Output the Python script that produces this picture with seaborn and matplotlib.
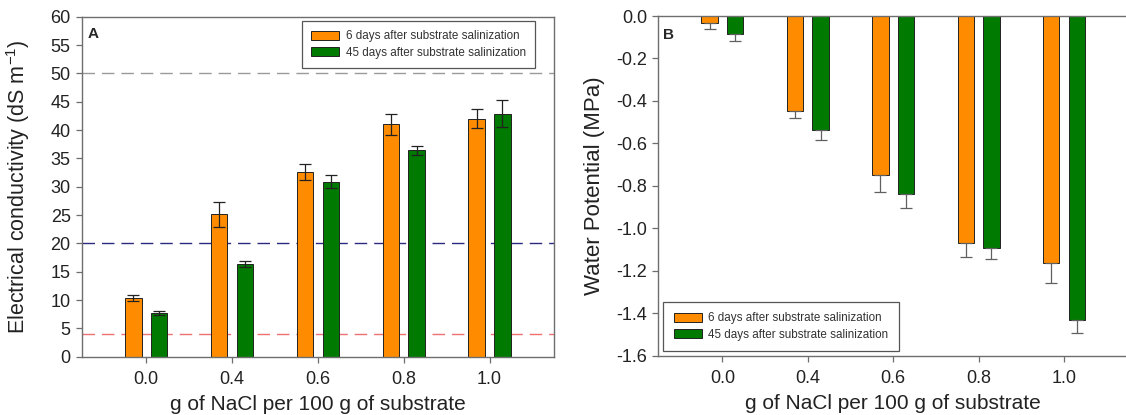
import numpy as np
import pandas as pd
import matplotlib
matplotlib.use("Agg")
import matplotlib.pyplot as plt
import seaborn as sns

# ---------------- data ----------------
categories = ["0.0", "0.4", "0.6", "0.8", "1.0"]
series_names = ["6 days after substrate salinization", "45 days after substrate salinization"]

ec_6d = [10.3, 25.1, 32.6, 41.0, 42.0]
ec_6d_err = [0.5, 2.2, 1.45, 1.9, 1.7]
ec_45d = [7.7, 16.3, 30.9, 36.4, 42.9]
ec_45d_err = [0.4, 0.5, 1.2, 0.8, 2.4]

wp_6d = [-0.034, -0.449, -0.750, -1.068, -1.163]
wp_6d_err = [0.029, 0.033, 0.077, 0.069, 0.096]
wp_45d = [-0.086, -0.535, -0.836, -1.094, -1.431]
wp_45d_err = [0.033, 0.047, 0.069, 0.049, 0.061]

ec_ref_lines = [50, 20, 4]
ec_ref_colors = ["#9a9a9a", "#2a2a80", "#ee7070"]

colors = ["#FF8C00", "#007A00"]

# ---------------- style ----------------
sns.set_style("ticks")
plt.rcParams["font.family"] = ["Liberation Sans", "DejaVu Sans"]
plt.rcParams["mathtext.default"] = "regular"
plt.rcParams["axes.unicode_minus"] = False

fig = plt.figure(figsize=(11.26, 4.15), dpi=100)
axA = fig.add_axes([0.0726, 0.1405, 0.4194, 0.8193])
axB = fig.add_axes([0.5846, 0.1429, 0.4172, 0.8185])


def make_df(v1, v2):
    return pd.DataFrame({
        "cat": categories * 2,
        "val": list(v1) + list(v2),
        "series": [series_names[0]] * len(categories) + [series_names[1]] * len(categories),
    })


def draw(ax, v1, e1, v2, e2, both_sides, ecolor):
    df = make_df(v1, v2)
    sns.barplot(data=df, x="cat", y="val", hue="series", order=categories,
                hue_order=series_names, palette=colors, saturation=1,
                width=0.6, gap=0.36, errorbar=None, edgecolor="#222222",
                linewidth=0.7, ax=ax)
    # error bars at the centres of the bars seaborn drew
    patches = list(ax.patches)[:2 * len(categories)]
    xs = sorted([p.get_x() + p.get_width() / 2 for p in patches])
    n = len(categories)
    x1 = xs[0::2]
    x2 = xs[1::2]
    for xx, vv, ee in ((x1, v1, e1), (x2, v2, e2)):
        if both_sides:
            yerr = ee
        else:
            yerr = [list(ee), [0] * n] if vv[0] < 0 else [[0] * n, list(ee)]
        ax.errorbar(xx, vv, yerr=yerr, fmt="none", ecolor=ecolor,
                    elinewidth=0.9, capsize=4.2, capthick=0.9, zorder=3)


draw(axA, ec_6d, ec_6d_err, ec_45d, ec_45d_err, True, "#222222")
draw(axB, wp_6d, wp_6d_err, wp_45d, wp_45d_err, False, "#606060")

for yv, c in zip(ec_ref_lines, ec_ref_colors):
    axA.axhline(yv, color=c, lw=1.0, ls=(0, (9, 5)), zorder=0.5)

spine_c = "#6e6e6e"
for ax in (axA, axB):
    ax.set_xlim(-0.75, 4.75)
    for s in ax.spines.values():
        s.set_visible(True)
        s.set_color(spine_c)
        s.set_linewidth(1.0)
    ax.tick_params(axis="both", direction="out", length=4, width=0.9,
                   color=spine_c, labelsize=13, labelcolor="#222222")
    ax.tick_params(axis="x", pad=6)
    ax.tick_params(axis="y", pad=4)
    ax.tick_params(top=False, right=False)
    ax.set_xlabel("g of NaCl per 100 g of substrate", fontsize=15, color="#222222", labelpad=5)

axA.set_ylim(0, 60)
axA.set_yticks(np.arange(0, 61, 5))
axA.set_ylabel("Electrical conductivity (dS m$^{-1}$)", fontsize=15.5, color="#222222")
axA.yaxis.set_label_coords(-0.105, 0.5)

axB.set_ylim(-1.6, 0)
yt = np.round(np.arange(-1.6, 0.01, 0.2), 1)
axB.set_yticks(yt)
axB.set_yticklabels([f"{v:.1f}".replace("-0.0", "0.0") for v in yt])
axB.set_ylabel("Water Potential (MPa)", fontsize=16, color="#222222")
axB.yaxis.set_label_coords(-0.113, 0.5)

axA.text(0.013, 0.97, "A", transform=axA.transAxes, fontsize=11, fontweight="bold",
         va="top", ha="left")
axB.text(0.011, 0.965, "B", transform=axB.transAxes, fontsize=11, fontweight="bold",
         va="top", ha="left")

for ax, loc, anchor, bpad in ((axA, "upper right", (0.96, 0.987), 0.8),
                              (axB, "lower left", (0.0106, 0.0138), 0.9)):
    h, l = ax.get_legend_handles_labels()
    if ax.get_legend() is not None:
        ax.get_legend().remove()
    leg = ax.legend(h[:2], l[:2], loc=loc, bbox_to_anchor=anchor, fontsize=8.4,
                    frameon=True, fancybox=False, framealpha=1, edgecolor="#555555",
                    borderpad=bpad, borderaxespad=0, handlelength=2.4, handleheight=0.9,
                    handletextpad=0.55, labelspacing=0.35)
    leg.get_frame().set_linewidth(0.9)
    for t in leg.get_texts():
        t.set_color("#333333")

fig.savefig("out.png", dpi=100)
